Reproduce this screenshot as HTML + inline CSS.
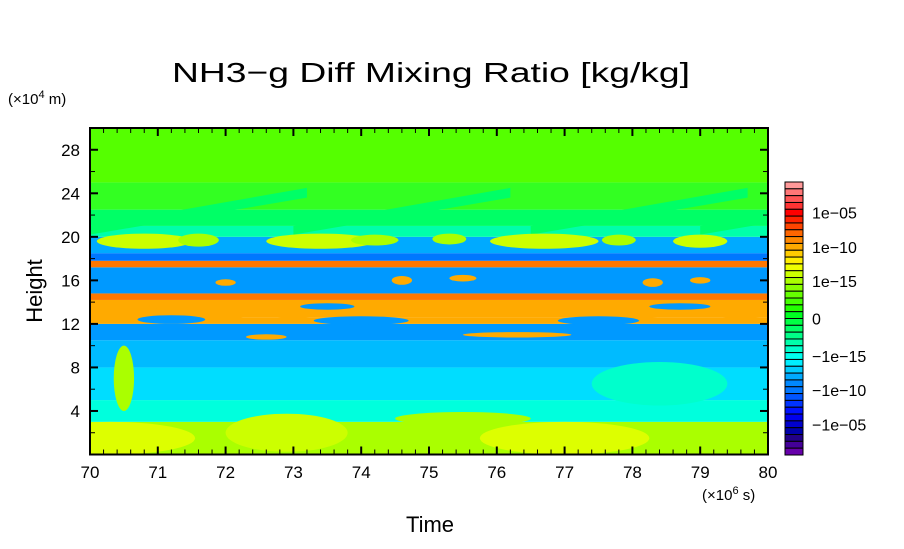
<!DOCTYPE html>
<html><head><meta charset="utf-8"><style>
body{margin:0;background:#fff;}
svg text{font-family:"Liberation Sans",sans-serif;fill:#000;}
</style></head><body>
<svg id="c" width="904" height="544" xmlns="http://www.w3.org/2000/svg">
<defs><clipPath id="plotclip"><rect x="90" y="128" width="678" height="326.5"/></clipPath></defs>
<text x="431" y="82" font-size="28" text-anchor="middle" textLength="518" lengthAdjust="spacingAndGlyphs">NH3−g Diff Mixing Ratio [kg/kg]</text>
<text x="8" y="104" font-size="15">(×10<tspan dy="-6" font-size="11">4</tspan><tspan dy="6"> m)</tspan></text>
<text x="702" y="500" font-size="15">(×10<tspan dy="-6" font-size="11">6</tspan><tspan dy="6"> s)</tspan></text>
<text x="430" y="532" font-size="22" text-anchor="middle">Time</text>
<text x="0" y="0" font-size="22" text-anchor="middle" transform="translate(42,291) rotate(-90)">Height</text>
<g id="field" clip-path="url(#plotclip)"></g><g id="axes"></g><g id="cbar"></g>
</svg>
<script>
const xTicks=[70,71,72,73,74,75,76,77,78,79,80];
const yTicks=[4,8,12,16,20,24,28];
const bandBottoms=[0,3,5,8,10.5,12,12.6,14.2,14.8,17.2,17.8,18.5,20,21,22.5,25];
const bandTops=[3,5,8,10.5,12,12.6,14.2,14.8,17.2,17.8,18.5,20,21,22.5,25,30];
const bandColors=["#aaff00","#00ffdd","#00ddff","#00bbff","#0099ff","#ffaa00","#ffaa00","#ff7700","#0099ff","#ff7700","#0077ff","#00aaff","#00ffaa","#00ff66","#33ff22","#55ff00"];
const blobT=[70.8,71.6,73.4,74.2,75.3,76.7,77.8,79.0,70.4,71.8,73.0,75.0,78.0,79.6,74.6,78.3,72.6,70.3,77.0,72.9,75.5,70.5,78.4,76.3,71.2,74.0,77.5,73.5,78.7,72.0,75.5,79.0];
const blobH=[19.6,19.7,19.6,19.7,19.8,19.6,19.7,19.6,13.2,12.8,13.0,13.1,12.9,13.0,16.0,15.8,10.8,1.5,1.5,2.0,3.3,7,6.5,11.0,12.4,12.3,12.3,13.6,13.6,15.8,16.2,16.0];
const blobW=[1.4,0.6,1.6,0.7,0.5,1.6,0.5,0.8,1.2,1.0,0.8,1.2,1.0,0.8,0.3,0.3,0.6,2.5,2.5,1.8,2.0,0.3,2.0,1.6,1.0,1.4,1.2,0.8,0.9,0.3,0.4,0.3];
const blobHt=[1.4,1.2,1.4,1.0,1.0,1.4,1.0,1.2,1.6,0.8,0.9,0.9,0.8,1.0,0.8,0.8,0.5,3,3,3.5,1.2,6,4,0.5,0.8,0.8,0.8,0.6,0.6,0.6,0.6,0.6];
const blobC=["#ccff00","#aaff00","#ccff00","#aaff00","#aaff00","#ccff00","#aaff00","#ccff00","#ffaa00","#ffaa00","#ffaa00","#ffaa00","#ffaa00","#ffaa00","#ffaa00","#ffaa00","#ffaa00","#ddff00","#ddff00","#ccff00","#aaff00","#aaff00","#00ffcc","#ffaa00","#0099ff","#0099ff","#0099ff","#0099ff","#0099ff","#ffaa00","#ffaa00","#ffaa00"];
const cbColors=["#ff9999","#ff7777","#ff5555","#ff3333","#ff0000","#ff2200","#ff4400","#ff6600","#ff8800","#ffaa00","#ffcc00","#ffee00","#eeff00","#ccff00","#aaff00","#88ff00","#66ff00","#44ff00","#22ff00","#00ff22","#00ff44","#00ff66","#00ff88","#00ffaa","#00ffcc","#00ffee","#00eeff","#00ccff","#00aaff","#0088ff","#0077ff","#0055ff","#0033ff","#0011ff","#0000ee","#0000cc","#0000aa","#220088","#440099","#6600aa"];
const cbLabels=["1e−05","1e−10","1e−15","0","−1e−15","−1e−10","−1e−05"];
const cbLabelIdx=[4,9,14,19.5,25,30,35];

const X0=90,X1=768,Y0=128,Y1=454.5;
const sx=t=>X0+(t-70)/10*(X1-X0);
const sy=h=>Y1-h/30*(Y1-Y0);
const NS="http://www.w3.org/2000/svg";
function mk(tag,attrs,parent){const e=document.createElementNS(NS,tag);for(const k in attrs)e.setAttribute(k,attrs[k]);parent.appendChild(e);return e;}
const field=document.getElementById('field'),axes=document.getElementById('axes'),cbar=document.getElementById('cbar');
for(let i=0;i<bandBottoms.length;i++){
 const r=mk('rect',{x:X0,y:sy(bandTops[i]),width:X1-X0,height:sy(bandBottoms[i])-sy(bandTops[i]),fill:bandColors[i]},field);
 
 
}
for(const t0 of [70,73,76.5,79]){
 const p=mk('polygon',{points:`${sx(t0)},${sy(21)} ${sx(t0+3.2)},${sy(24.5)} ${sx(t0+3.2)},${sy(23.6)} ${sx(t0)},${sy(20.2)}`,fill:"#00ff66"},field);
 
 
}
for(let i=0;i<blobT.length;i++){
 const e=mk('ellipse',{cx:sx(blobT[i]),cy:sy(blobH[i]),rx:blobW[i]/10*(X1-X0)/2,ry:blobHt[i]/30*(Y1-Y0)/2,fill:blobC[i]},field);
 
 
}
mk('rect',{x:X0,y:Y0,width:X1-X0,height:Y1-Y0,fill:"none",stroke:"#000","stroke-width":2},axes);
for(let i=0;i<=50;i++){const t=70+i*0.2,big=i%5==0,L=big?8:5;
 mk('line',{x1:sx(t),x2:sx(t),y1:Y1,y2:Y1-L,stroke:"#000","stroke-width":big?2:1},axes);
 mk('line',{x1:sx(t),x2:sx(t),y1:Y0,y2:Y0+L,stroke:"#000","stroke-width":big?2:1},axes);}
for(let h=2;h<30;h+=2){const big=h%4==0,L=big?8:5;
 mk('line',{x1:X0,x2:X0+L,y1:sy(h),y2:sy(h),stroke:"#000","stroke-width":big?2:1},axes);
 mk('line',{x1:X1,x2:X1-L,y1:sy(h),y2:sy(h),stroke:"#000","stroke-width":big?2:1},axes);}
xTicks.forEach(t=>{const e=mk('text',{x:sx(t),y:478,"font-size":17,"text-anchor":"middle"},axes);e.textContent=t;
 
 });
yTicks.forEach(h=>{const e=mk('text',{x:80,y:sy(h)+6,"font-size":17,"text-anchor":"end"},axes);e.textContent=h;
 
 });
const CB0=182,CBH=273/cbColors.length;
cbColors.forEach((c,i)=>{const r=mk('rect',{x:785,y:CB0+i*CBH,width:18,height:CBH,fill:c,stroke:"#000","stroke-width":1},cbar);
 
 });
cbLabels.forEach((l,i)=>{const e=mk('text',{x:812,y:CB0+cbLabelIdx[i]*CBH+CBH/2+6,"font-size":16},cbar);e.textContent=l;
 
 });
</script>
</body></html>
